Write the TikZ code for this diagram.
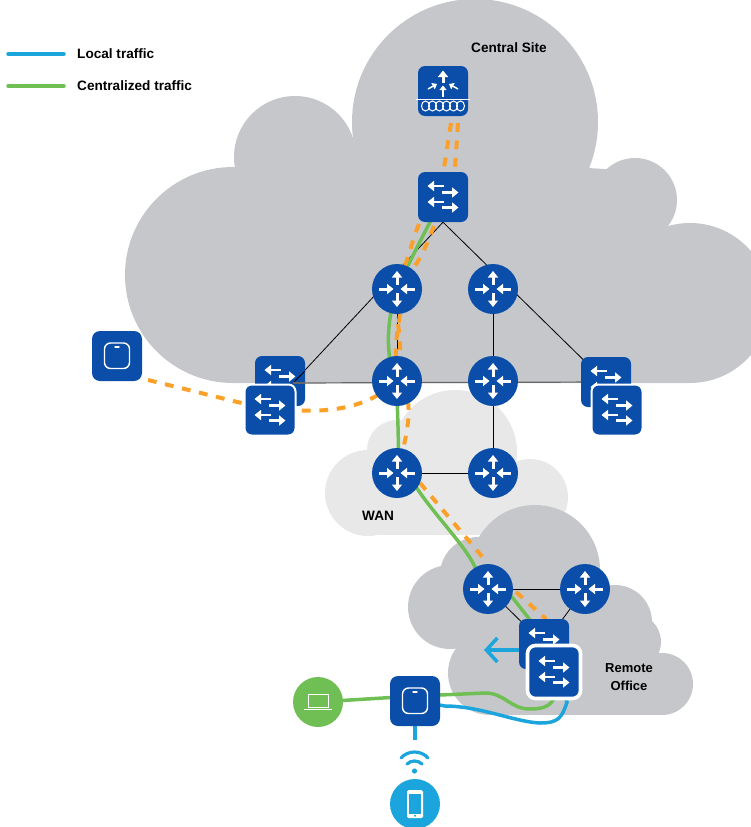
\documentclass[tikz,border=0pt]{standalone}
\usepackage{fontspec}
\setmainfont{Liberation Sans}
\usetikzlibrary{arrows.meta,calc}
\pgfdeclarelayer{clouds}
\pgfdeclarelayer{wires}
\pgfsetlayers{clouds,wires,main}
\definecolor{ciscoblue}{HTML}{0B4EA9}
\definecolor{cloudgray}{HTML}{C6C7CB}
\definecolor{wangray}{HTML}{E8E8E9}
\definecolor{lgreen}{HTML}{70BF54}
\definecolor{lblue}{HTML}{1CA5DD}
\definecolor{lorange}{HTML}{FBA028}
\tikzset{
 wa/.style={white,line width=3pt,-{Triangle[length=6.5pt,width=10pt]}},
 wb/.style={white,line width=2pt,-{Triangle[length=4.5pt,width=7pt]}},
 router/.style={circle,fill=ciscoblue,inner sep=0pt,minimum size=50pt,
  path picture={\begin{scope}[shift={(path picture bounding box.center)}]
   \draw[wa] (0,-4) -- (0,-18); \draw[wa] (0,4) -- (0,18);
   \draw[wa] (-18,0) -- (-3.5,0); \draw[wa] (18,0) -- (3.5,0);
  \end{scope}}},
 swglyph/.style={path picture={\begin{scope}[shift={(path picture bounding box.center)}]
   \draw[wa,line width=2.8pt] (1,-11) -- (-15.5,-11); \draw[wa,line width=2.8pt] (-1,-4.5) -- (15.5,-4.5);
   \draw[wa,line width=2.8pt] (1,5) -- (-15.5,5); \draw[wa,line width=2.8pt] (-1,10.5) -- (15.5,10.5);
  \end{scope}}},
 switchbox/.style={rectangle,rounded corners=7pt,fill=ciscoblue,inner sep=0pt,minimum size=50pt,swglyph},
 frontswitch/.style={switchbox,draw=white,line width=2pt,minimum size=51pt},
 remoteswitch/.style={switchbox,draw=white,line width=3.6pt,minimum size=53pt,rounded corners=8pt},
 apbox/.style={rectangle,rounded corners=8pt,fill=ciscoblue,inner sep=0pt,minimum size=50pt,
  path picture={\begin{scope}[shift={(path picture bounding box.center)}]
   \draw[white,line width=1.4pt,rounded corners=6pt] (-12.5,-13) rectangle (12.5,12.5);
   \draw[white,line width=1.4pt,line cap=round] (-2,-9) -- (2,-9);
  \end{scope}}},
 wdm/.style={rectangle,rounded corners=7pt,fill=ciscoblue,inner sep=0pt,minimum size=50pt,
  path picture={\begin{scope}[shift={(path picture bounding box.center)}]
   \draw[wa] (0,-8) -- (0,-20.5);
   \draw[wb] (0,5.5) -- (0,-5.5);
   \draw[wb,line width=1.5pt] (-15,-2) -- (-6,-7);
   \draw[wb,line width=1.5pt] (15,-2) -- (6,-7);
   \foreach \xx in {-17.5,-10.5,-3.5,3.5,10.5,17.5}
     \draw[white,line width=1pt] (\xx,15) ellipse (4 and 5);
  \end{scope}}},
 laptop/.style={circle,fill=lgreen,inner sep=0pt,minimum size=50pt,
  path picture={\begin{scope}[shift={(path picture bounding box.center)}]
   \draw[white,line width=.9pt] (-10,-7.5) rectangle (10,5.5);
   \draw[white,line width=1pt] (-14,7.5) -- (14,7.5);
  \end{scope}}},
 phone/.style={circle,fill=lblue,inner sep=0pt,minimum size=50pt,
  path picture={\begin{scope}[shift={(path picture bounding box.center)}]
   \fill[white,rounded corners=1.5pt] (-8,-14) rectangle (8,14);
   \fill[lblue] (-6.3,-10.5) rectangle (6.3,9.5);
   \fill[lblue] (0,11.8) circle (1.1);
  \end{scope}}},
 lab/.style={font=\bfseries\fontsize{13.6}{16}\selectfont,text=black,inner sep=0pt},
 thin wire/.style={black,line width=.8pt},
 gw/.style={lgreen,line width=3.5pt},
 bw/.style={lblue,line width=3.5pt},
 ow/.style={lorange,line width=4pt,dash pattern=on 8.8pt off 8.7pt},
}
\begin{document}
\begin{tikzpicture}[x=1pt,y=-1pt]
\useasboundingbox (0,0) rectangle (751,827);
% nodes
\node[wdm] (top) at (443,91) {};
\node[switchbox] (core) at (443,197) {};
\node[router] (r1) at (397,289) {};
\node[router] (r2) at (493,289) {};
\node[router] (r3) at (397,381) {};
\node[router] (r4) at (493,381) {};
\node[router] (r5) at (397,473) {};
\node[router] (r6) at (493,473) {};
\node[router] (r7) at (488,589) {};
\node[router] (r8) at (585,589) {};
\node[switchbox] (lb) at (280,381) {};
\coordinate (lbjoin) at ($(lb.center)+(13,2)$);
\coordinate (lbedge) at ($(lb.center)+(25,-10)$);
\coordinate (lbright) at ($(lb.center)+(25,2)$);
\draw[thin wire] (lbjoin) -- (lbedge);
\draw[black!60,line width=1.2pt] (lbjoin) -- (lbright);
\node[frontswitch] (lf) at (270,410) {};
\node[switchbox] (rb) at (606,382) {};
\node[frontswitch] (rf) at (617,410) {};
\node[switchbox] (sb) at (544,644) {};
\node[remoteswitch] (sf) at (554,672) {};
\node[apbox] (apl) at (117,356) {};
\node[apbox] (apb) at (415,701) {};
\node[laptop] (lap) at (318,702) {};
\node[phone] (ph) at (415,804) {};
\draw[white,line width=.9pt] ($(top.center)+(-27,8)$) -- ($(top.center)+(27,8)$);
% labels
\node[lab,anchor=west] (t1) at (77,54) {Local traffic};
\node[lab,anchor=west] (t2) at (77,86) {Centralized traffic};
\node[lab,anchor=west] (t3) at (471,48) {Central Site};
\node[lab,anchor=west] (t4) at (362,516) {WAN};
\node[lab,align=center,font=\bfseries\fontsize{13}{15}\selectfont] (t5) at (629,677) {Remote\\[3pt]Office};
\coordinate (lg1a) at (8,54); \coordinate (lg1b) at (64,54);
\coordinate (lg2a) at (8,86); \coordinate (lg2b) at (64,86);
\coordinate (arrowtip) at (484,650);
\coordinate (apdrop) at (415,740);
% wifi
\fill[lblue] (414.5,771) circle (2.6);
\draw[lblue,line width=3.2pt,line cap=round] (407,764) .. controls (411,760) and (418,760) .. (422,764);
\draw[lblue,line width=3.2pt,line cap=round] (401,758) .. controls (408,750) and (421,750) .. (428,758);
\begin{pgfonlayer}{clouds}
 \begin{scope}
 \clip (0,0) rectangle (751,827);
 % WAN cloud
 \fill[wangray] (368,493) circle (43);
 \fill[wangray] (397,450) circle (30);
 \fill[wangray] (455,452) circle (62);
 \fill[wangray] (530,497) circle (38);
 \fill[wangray] (368,470) rectangle (530,535);
 % central cloud
 \fill[cloudgray] (233,275) circle (108);
 \fill[cloudgray] (295,157) circle (61);
 \fill[cloudgray] (475,122) circle (123);
 \fill[cloudgray] (635,200) circle (42);
 \fill[cloudgray] (690,303) circle (80);
 \fill[cloudgray] (233,200) -- (300,150) -- (620,170) -- (660,225) -- (690,383) -- (233,383) -- cycle;
 % remote cloud
 \fill[cloudgray] (450,607) circle (42);
 \fill[cloudgray] (478,575) circle (38);
 \fill[cloudgray] (535,570) circle (65);
 \fill[cloudgray] (615,622) circle (37);
 \fill[cloudgray] (632,642) circle (29);
 \fill[cloudgray] (662,684) circle (31);
 \fill[cloudgray] (490,673) circle (42);
 \fill[cloudgray] (480,600) rectangle (630,680);
 \fill[cloudgray] (490,670) rectangle (662,715);
 \end{scope}
\end{pgfonlayer}
\begin{pgfonlayer}{wires}
 % mesh
 \draw[thin wire] (core.south) -- (lbjoin);
 \draw[thin wire] (core.south) -- (rb.center);
 \draw[thin wire] (r1.center) -- (r5.center);
 \draw[thin wire] (r2.center) -- (r6.center);
 \draw[black!60,line width=1.2pt] (lbjoin) -- (rb.center);
 \draw[thin wire] (r5.center) -- (r6.center);
 \draw[thin wire] (r7.center) -- (r8.center);
 \draw[thin wire] (r7.center) -- (sb.center) -- (r8.center);
 % centralized traffic
 \draw[gw] (core.center) .. controls (425,232) and (409,262) .. (r1.center);
 \draw[gw] (r1.center) .. controls (390,310) and (386,335) .. (390,360) -- (r3.center);
 \draw[gw] (r3.center) .. controls (397,420) and (400,445) .. (r5.center);
 \draw[gw] (r5.center) -- (415,485) .. controls (430,510) and (465,545) .. (475,567) -- (r7.center);
 \draw[gw] (r7.center) -- (512,597) -- (534,625) -- (sb.center);
 \draw[gw] (sf.center) -- (553,700) .. controls (549,707) and (541,709) .. (530,709)
    .. controls (510,709) and (505,693) .. (485,693) -- (440,695) -- (apb.center);
 \draw[gw] (apb.center) ++(0,-5) coordinate (apgreen) -- (lap.center);
 % local traffic
 \draw[bw] (sf.center) -- (567,702) .. controls (562,718) and (558,723) .. (540,723)
    .. controls (515,722) and (480,706) .. (445,706) -- (apb.center);
 \draw[bw,-{Straight Barb[length=11pt,width=24pt,line width=3.5pt]}] (sb.center |- arrowtip) -- (arrowtip);
 \draw[bw] (apb.center) -- (apdrop);
 % orange paths
 \draw[ow] (top.center) ++(8,32) coordinate (o1) -- (444,168);
 \draw[ow] (top.center) ++(15,32) coordinate (o2) -- (455,168);
 \draw[ow] (core.center) ++(-24,27) coordinate (o3) .. controls (413,238) and (411,250) .. (r1.center);
 \draw[ow] (core.center) ++(-9,29) coordinate (o4) .. controls (428,240) and (422,262) .. (r1.center);
 \draw[ow] (r1.center) ++(3,25) coordinate (o5) .. controls (398,330) and (394,340) .. (r3.center);
 \draw[ow] (r1.center) ++(1,35) coordinate (o6) .. controls (400,340) and (402,350) .. (r3.center);
 \draw[ow] (r3.center) ++(11,20) coordinate (o7) .. controls (410,420) and (407,435) .. (r5.center);
 \draw[ow] (r5.center) ++(23,10) coordinate (o8) -- (485,560);
 \draw[ow] (r7.center) ++(28,3) coordinate (o9) -- (545,618) -- (sb.center);
 \draw[ow] (apl.center) ++(31,24) coordinate (o10) -- (lf.center)
    .. controls (300,409) and (355,420) .. (r3.center);
\end{pgfonlayer}
\draw[bw,line cap=round] (lg1a) -- (lg1b);
\draw[gw,line cap=round] (lg2a) -- (lg2b);
\end{tikzpicture}
\end{document}
